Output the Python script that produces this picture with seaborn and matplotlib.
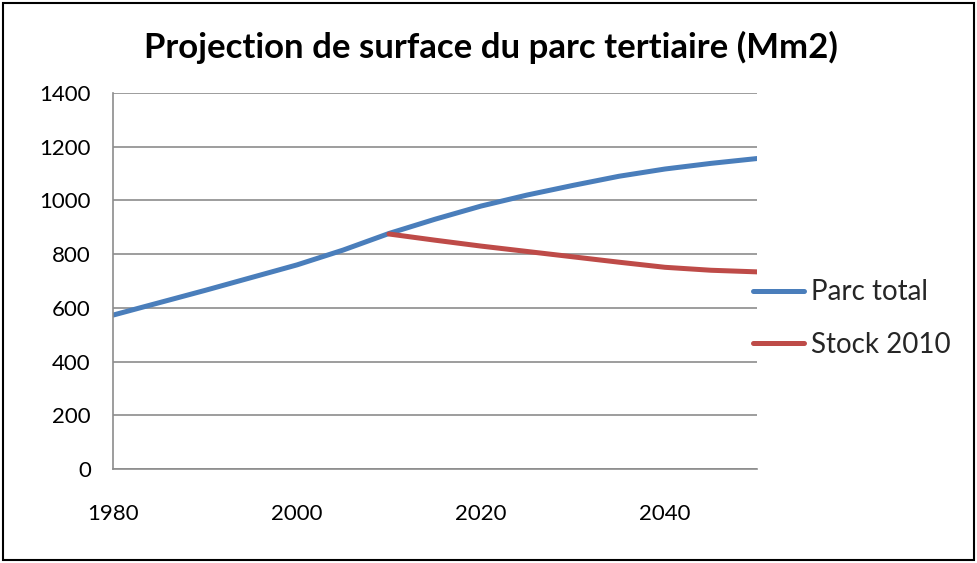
import numpy as np
import pandas as pd
import seaborn as sns
import matplotlib.pyplot as plt
from matplotlib.patches import Rectangle

sns.set_style('white')
plt.rcParams['font.family'] = ['Lato', 'DejaVu Sans']

# data
years_total = [1980, 1990, 2000, 2005, 2010, 2015, 2020, 2025, 2030, 2035, 2040, 2045, 2050]
parc_total = [573, 665, 760, 815, 877, 930, 979, 1020, 1056, 1090, 1117, 1138, 1156]
years_stock = [2010, 2015, 2020, 2025, 2030, 2035, 2040, 2045, 2050]
stock_2010 = [875, 852, 830, 810, 790, 770, 751, 740, 734]

df = pd.concat([
    pd.DataFrame({'year': years_total, 'value': parc_total, 'serie': 'Parc total'}),
    pd.DataFrame({'year': years_stock, 'value': stock_2010, 'serie': 'Stock 2010'}),
])

fig = plt.figure(figsize=(9.77, 5.63), dpi=100)
ax = fig.add_axes([113 / 977, 1 - 469 / 563, (757 - 113) / 977, (469 - 93) / 563])

palette = {'Parc total': '#4A7EBB', 'Stock 2010': '#BE4B48'}
sns.lineplot(data=df, x='year', y='value', hue='serie', palette=palette,
             linewidth=3.6, ax=ax, solid_capstyle='round')

ax.set_xlim(1980, 2050)
ax.set_ylim(0, 1400)
ax.set_xticks([1980, 2000, 2020, 2040])
ax.set_yticks(range(0, 1401, 200))
ax.set_xlabel('')
ax.set_ylabel('')
ax.grid(axis='y', color='#8c8c8c', linewidth=1.2)
ax.set_axisbelow(True)
for s in ['top', 'right']:
    ax.spines[s].set_visible(False)
for s in ['left', 'bottom']:
    ax.spines[s].set_color('#8c8c8c')
    ax.spines[s].set_linewidth(1.2)
ax.tick_params(axis='both', direction='out', length=5, width=1, color='#8c8c8c',
               labelsize=16, colors='#8c8c8c', labelcolor='black')
ax.tick_params(axis='x', pad=20)
ax.tick_params(axis='y', pad=11)

leg = ax.legend(loc='center left', bbox_to_anchor=(0.955, 0.4), frameon=False,
                fontsize=20, handlelength=1.85, handletextpad=0.25, labelspacing=0.95)
for line in leg.get_lines():
    line.set_linewidth(3.6)

fig.text(0.503, 1 - 47 / 563, 'Projection de surface du parc tertiaire (Mm2)',
         ha='center', va='center', fontsize=25, fontweight='bold', color='black')

fig.patches.append(Rectangle((3 / 977, 3 / 563), 971 / 977, 557 / 563,
                             transform=fig.transFigure, fill=False,
                             edgecolor='black', linewidth=1.5))

fig.savefig('out.png', dpi=100)
